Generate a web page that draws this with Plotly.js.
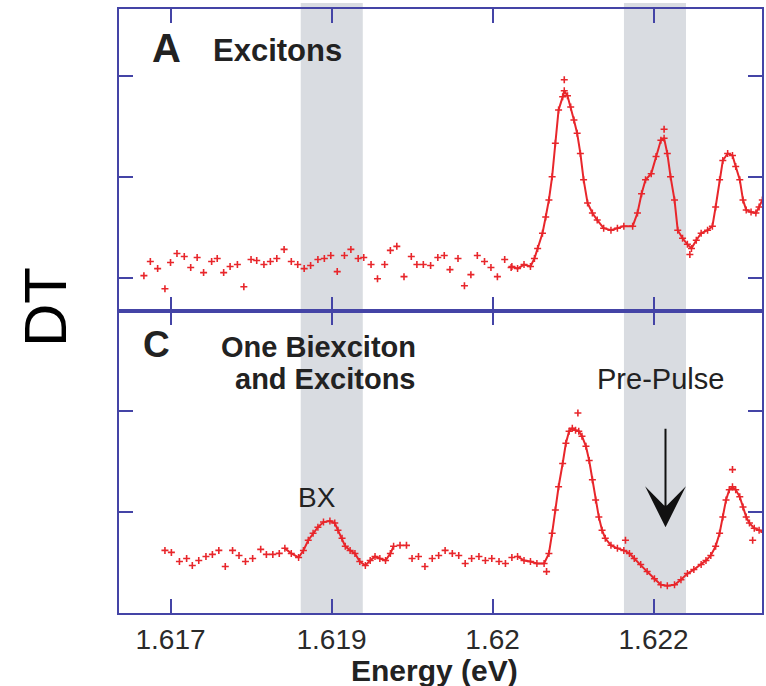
<!DOCTYPE html>
<html>
<head>
<meta charset="utf-8">
<script src="https://cdn.plot.ly/plotly-3.0.1.min.js"></script>
<style>html,body{margin:0;padding:0;background:#fff;}#chart{width:766px;height:686px;}</style>
</head>
<body>
<div id="chart"></div>
<script>
// ---------- Panel A (Excitons) ----------
const aSparseE = [1.616752,1.616812,1.61688,1.616948,1.617,1.61706,1.617128,1.617188,1.617248,1.617308,1.617383,1.617435,1.617495,1.617555,1.617623,1.617683,1.61775,1.617803,1.61787,1.61793,1.61799,1.618058,1.618125,1.618185,1.618245,1.618305,1.618373,1.618433,1.618493,1.618553,1.61862,1.61868,1.618748,1.6188,1.618868,1.618928,1.618995,1.619048,1.619108,1.619175,1.619243,1.619295,1.619355,1.619423,1.61949,1.61955,1.619603,1.619678,1.619738,1.619798,1.619858,1.619925,1.619985,1.620045,1.620113,1.620173];
const aSparseDT = [0.02,0.16,0.09,-0.11,0.15,0.24,0.21,0.10,0.20,0.05,0.16,0.19,0.05,0.11,0.13,-0.09,0.18,0.17,0.13,0.16,0.19,0.28,0.16,0.13,0.09,0.12,0.18,0.19,0.22,0.06,0.22,0.28,0.19,0.20,0.13,-0.01,0.13,0.27,0.31,0.01,0.21,0.13,0.13,0.12,0.20,0.22,0.08,0.19,-0.08,0.03,0.22,0.16,0.10,0.01,0.18,0.10];
const aDenseE = [1.62018,1.620233,1.620293,1.620353,1.62039,1.62042,1.620465,1.620495,1.620525,1.620555,1.620585,1.620615,1.620653,1.620668,1.620698,1.620728,1.620758,1.620788,1.620818,1.620848,1.620885,1.62093,1.620975,1.621035,1.621103,1.621163,1.621223,1.621305,1.62135,1.621388,1.621425,1.621478,1.621523,1.621568,1.621598,1.621628,1.621658,1.621695,1.621725,1.62177,1.621815,1.621853,1.621898,1.621943,1.622003,1.622048,1.622078,1.622115,1.622145,1.62219,1.622235,1.622265,1.622303,1.622333,1.622363,1.622408,1.622453,1.622483,1.622513];
const aDenseDT = [0.11,0.09,0.13,0.11,0.19,0.29,0.44,0.60,0.77,1.00,1.33,1.66,1.79,1.85,1.80,1.69,1.56,1.43,1.23,0.97,0.74,0.64,0.57,0.49,0.47,0.49,0.51,0.51,0.64,0.83,0.97,1.03,1.20,1.36,1.38,1.23,1.00,0.77,0.47,0.39,0.33,0.29,0.37,0.44,0.47,0.51,0.70,0.97,1.16,1.23,1.21,1.10,0.97,0.77,0.67,0.65,0.64,0.70,0.77];
const aOutE = [1.620668,1.621598,1.621838];
const aOutDT = [1.96,1.47,0.23];

// ---------- Panel C (One Biexciton and Excitons) ----------
const cSparseE = [1.616948,1.617008,1.617083,1.61715,1.617203,1.617263,1.61733,1.61739,1.61745,1.61751,1.617578,1.617638,1.617698,1.617765,1.61784,1.617893,1.617953,1.618013,1.619138,1.619198,1.61925,1.61931,1.61937,1.619438,1.619498,1.619558,1.619625,1.619685,1.619745,1.619805,1.619873,1.619933,1.619993,1.62006,1.62012,1.62018];
const cSparseDT = [0.62,0.60,0.51,0.54,0.47,0.52,0.56,0.58,0.62,0.46,0.62,0.57,0.51,0.54,0.63,0.58,0.58,0.59,0.67,0.67,0.54,0.56,0.46,0.54,0.57,0.62,0.59,0.57,0.49,0.54,0.56,0.52,0.54,0.51,0.49,0.55];
const cBxE = [1.618065,1.618125,1.618193,1.618238,1.618283,1.618328,1.618373,1.618425,1.618485,1.61853,1.61856,1.618598,1.618628,1.618673,1.618718,1.618763,1.618815,1.61886,1.618905,1.61895,1.619003,1.619048,1.619078];
const cBxDT = [0.64,0.59,0.55,0.62,0.72,0.79,0.85,0.90,0.91,0.89,0.82,0.74,0.66,0.62,0.59,0.51,0.47,0.52,0.56,0.54,0.52,0.59,0.66];
const cDenseE = [1.620233,1.620293,1.620353,1.620413,1.62048,1.620525,1.620555,1.620585,1.620615,1.620653,1.620683,1.620713,1.620743,1.620773,1.620803,1.620833,1.62087,1.6209,1.62093,1.62096,1.62099,1.62102,1.62105,1.621103,1.621163,1.621223,1.621275,1.62132,1.62138,1.62144,1.621508,1.621568,1.621628,1.621695,1.621755,1.621815,1.621875,1.621943,1.621988,1.622033,1.622078,1.622115,1.622145,1.622175,1.622205,1.622235,1.622265,1.622303,1.622333,1.622363,1.622393,1.622438,1.622483,1.622528];
const cDenseDT = [0.56,0.52,0.51,0.49,0.49,0.59,0.79,1.02,1.25,1.48,1.68,1.80,1.83,1.81,1.80,1.75,1.65,1.51,1.32,1.12,0.95,0.82,0.74,0.67,0.64,0.62,0.59,0.54,0.48,0.41,0.34,0.28,0.27,0.28,0.33,0.39,0.43,0.48,0.52,0.57,0.66,0.79,0.95,1.12,1.22,1.25,1.22,1.15,1.05,0.95,0.89,0.84,0.82,0.80];
const cOutE = [1.620795,1.621238,1.622235,1.622423,1.620503];
const cOutDT = [1.98,0.72,1.42,0.72,0.41];

// ---------- Axis ticks and bands ----------
const tickVals = [1.617, 1.6185, 1.62, 1.6215];
const tickText = ['1.617', '1.619', '1.62', '1.622'];
const bandStarts = [1.618213, 1.621224];
const bandEnds = [1.618791, 1.621802];
const arrowE = 1.621611, arrowDT = 0.85;

const RED = '#e8262b';
const BLUE = '#4444a6';
const FONT = 'Liberation Sans, Arial, Helvetica, sans-serif';

function markerTrace(x, y, xa, ya) {
  return {x: x, y: y, xaxis: xa, yaxis: ya, type: 'scatter', mode: 'markers',
    marker: {symbol: 'cross-thin', size: 5, color: RED, line: {color: RED, width: 1.6}},
    hoverinfo: 'skip', showlegend: false};
}
function lineTrace(x, y, xa, ya) {
  return {x: x, y: y, xaxis: xa, yaxis: ya, type: 'scatter', mode: 'lines+markers',
    line: {color: RED, width: 2},
    marker: {symbol: 'cross-thin', size: 5, color: RED, line: {color: RED, width: 1.5}},
    hoverinfo: 'skip', showlegend: false};
}

const traces = [
  markerTrace(aSparseE, aSparseDT, 'x2', 'y2'),
  lineTrace(aDenseE, aDenseDT, 'x2', 'y2'),
  markerTrace(aOutE, aOutDT, 'x2', 'y2'),
  markerTrace(cSparseE, cSparseDT, 'x', 'y'),
  lineTrace(cBxE, cBxDT, 'x', 'y'),
  lineTrace(cDenseE, cDenseDT, 'x', 'y'),
  markerTrace(cOutE, cOutDT, 'x', 'y')
];

const axCommon = {
  showline: true, linecolor: BLUE, linewidth: 2, mirror: 'ticks',
  ticks: 'inside', ticklen: 14, tickwidth: 2, tickcolor: BLUE,
  showgrid: false, zeroline: false
};

const shapes = bandStarts.map((s, i) => ({
  type: 'rect', xref: 'x', yref: 'paper', x0: s, x1: bandEnds[i], y0: 0, y1: 1.01,
  fillcolor: '#d9dce1', line: {width: 0}, layer: 'below'
}));

function txt(text, x, y, size, bold, xanchor, extra) {
  return Object.assign({
    text: bold ? '<b>' + text + '</b>' : text, xref: 'paper', yref: 'paper', x: x, y: y,
    xanchor: xanchor || 'center', yanchor: 'middle', showarrow: false,
    font: {family: FONT, size: size, color: '#222'}
  }, extra || {});
}

const annotations = [
  txt('A', 0.0482, 0.9354, 40, true, 'left'),
  txt('Excitons', 0.1431, 0.9305, 31, true, 'left'),
  txt('C', 0.0335, 0.4450, 37, true, 'left'),
  txt('One Biexciton', 0.465, 0.4405, 29, true, 'right'),
  txt('and Excitons', 0.465, 0.3870, 29, true, 'right'),
  txt('BX', 0.3079, 0.1904, 28, false, 'center'),
  txt('Pre-Pulse', 0.8414, 0.3874, 29, false, 'center'),
  txt('DT', -0.1151, 0.5066, 60, false, 'center', {textangle: -90, font: {family: FONT, size: 60, color: '#000'}}),
  txt('Energy (eV)', 0.4914, -0.0952, 30, true, 'center'),
  {x: arrowE, y: arrowDT, xref: 'x', yref: 'y', text: '', showarrow: true,
   ax: 0, ay: -100, axref: 'pixel', ayref: 'pixel',
   arrowhead: 3, arrowsize: 3.4, arrowwidth: 2, arrowcolor: '#111', standoff: 0}
];

const layout = {
  width: 766, height: 686,
  margin: {l: 119, r: 4, t: 9, b: 73, pad: 0},
  paper_bgcolor: '#ffffff', plot_bgcolor: '#ffffff',
  showlegend: false,
  font: {family: FONT, color: '#222'},
  xaxis: Object.assign({}, axCommon, {anchor: 'y', range: [1.61652, 1.62251],
    tickmode: 'array', tickvals: tickVals, ticktext: tickText,
    tickfont: {family: FONT, size: 28, color: '#2a2a2a'}}),
  xaxis2: Object.assign({}, axCommon, {anchor: 'y2', matches: 'x', range: [1.61652, 1.62251],
    tickmode: 'array', tickvals: tickVals, showticklabels: false}),
  yaxis: Object.assign({}, axCommon, {domain: [0, 0.5], range: [0, 2.99], tick0: 0, dtick: 1, showticklabels: false}),
  yaxis2: Object.assign({}, axCommon, {domain: [0.5, 1], range: [-0.33, 2.66], tick0: 0, dtick: 1, showticklabels: false}),
  shapes: shapes,
  annotations: annotations
};

Plotly.newPlot('chart', traces, layout, {staticPlot: true, displayModeBar: false});
</script>
</body>
</html>
